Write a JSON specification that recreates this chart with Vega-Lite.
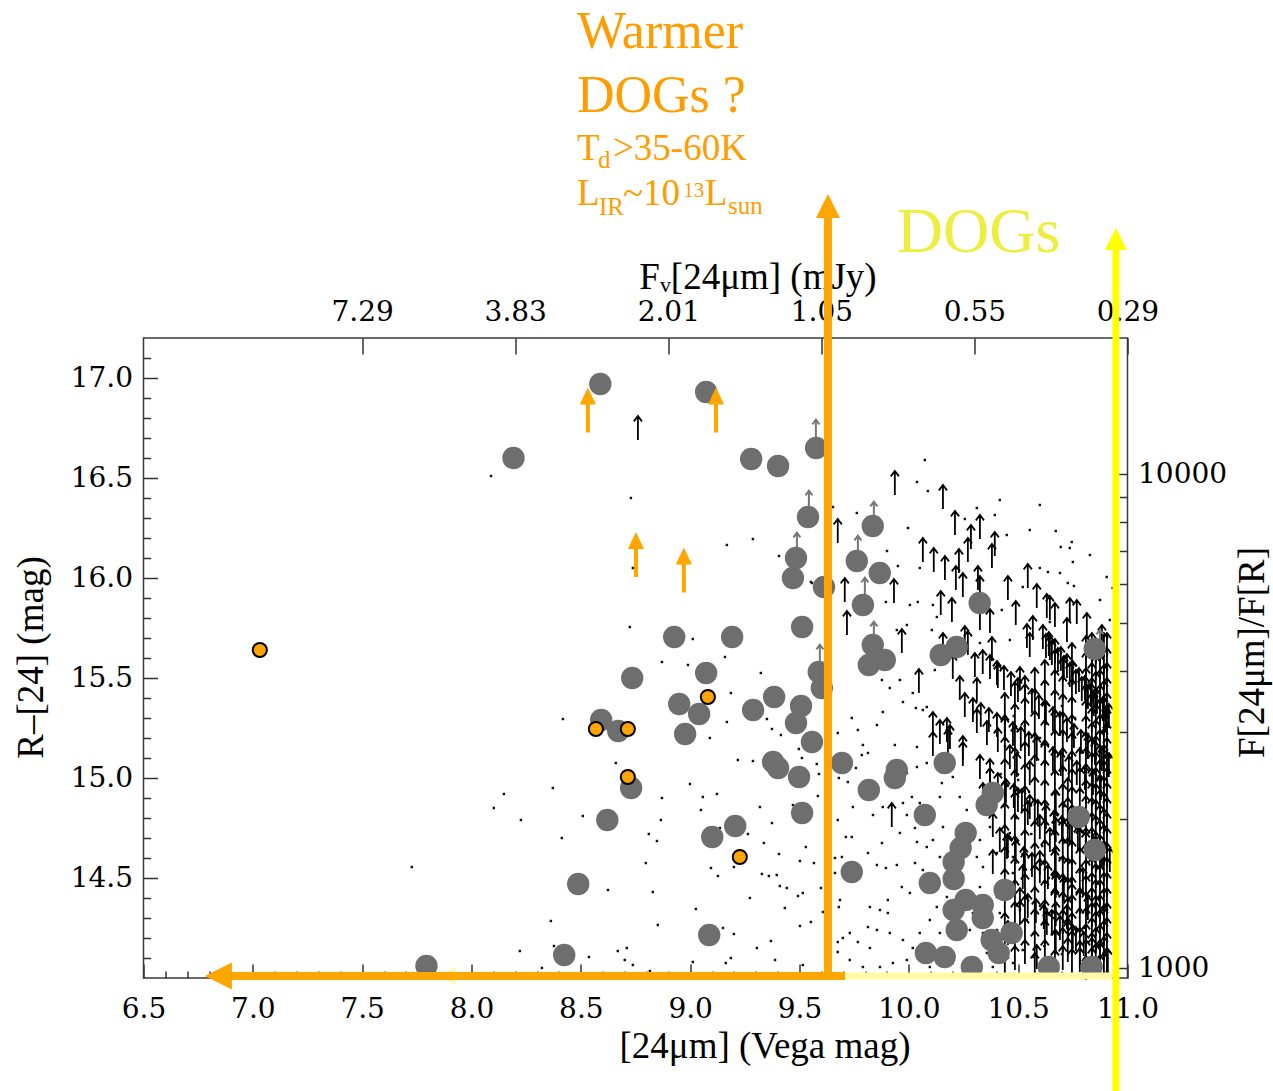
{
"$schema": "https://vega.github.io/schema/vega-lite/v6.json",
"width": 984,
"height": 640,
"autosize": "none",
"padding": {"left": 143.5, "top": 338, "right": 145.5, "bottom": 113},
"background": "white",
"config": {
 "view": {"stroke": "#3a3a3a", "strokeWidth": 1.5},
 "axis": {"grid": false, "domain": false, "labelFont": "DejaVu Serif", "labelFontSize": 28, "labelColor": "#000", "titleFont": "Liberation Serif", "titleFontSize": 37, "titleColor": "#000", "titleFontWeight": "normal", "tickColor": "#333", "tickWidth": 1.5, "labelFlush": false, "labelOverlap": false}
},
"resolve": {"axis": {"x": "independent", "y": "independent"}},
"datasets": {
 "dots": [
{"x":8.089,"y":16.51},{"x":8.729,"y":16.40},{"x":8.738,"y":16.05},{"x":8.724,"y":15.755},{"x":9.012,"y":15.695},{"x":9.168,"y":16.165},{"x":9.287,"y":16.195},{"x":9.406,"y":16.11},{"x":9.552,"y":15.98},{"x":9.159,"y":15.605},{"x":9.653,"y":16.355},{"x":8.418,"y":15.295},{"x":8.871,"y":15.58},{"x":8.990,"y":15.565},{"x":9.323,"y":15.525},{"x":9.186,"y":15.425},{"x":9.168,"y":15.28},{"x":9.090,"y":15.20},{"x":9.351,"y":15.295},{"x":9.374,"y":15.245},{"x":9.415,"y":15.215},{"x":9.218,"y":15.09},{"x":9.287,"y":15.085},{"x":9.497,"y":15.145},{"x":9.511,"y":15.10},{"x":9.579,"y":15.07},{"x":9.589,"y":15.02},{"x":8.660,"y":15.075},{"x":8.372,"y":14.95},{"x":8.148,"y":14.92},{"x":8.102,"y":14.85},{"x":8.226,"y":14.79},{"x":8.509,"y":14.81},{"x":8.413,"y":14.70},{"x":8.871,"y":14.90},{"x":8.999,"y":14.97},{"x":9.058,"y":14.905},{"x":9.122,"y":14.92},{"x":9.049,"y":14.84},{"x":8.866,"y":14.79},{"x":8.811,"y":14.72},{"x":8.848,"y":14.685},{"x":9.319,"y":14.855},{"x":9.374,"y":14.775},{"x":9.337,"y":14.675},{"x":9.406,"y":14.62},{"x":9.264,"y":14.72},{"x":9.136,"y":14.75},{"x":9.529,"y":14.655},{"x":9.502,"y":14.585},{"x":9.566,"y":14.575},{"x":9.584,"y":14.91},{"x":9.470,"y":14.865},{"x":9.662,"y":14.60},{"x":9.095,"y":14.55},{"x":9.127,"y":14.51},{"x":9.200,"y":14.555},{"x":9.328,"y":14.52},{"x":9.360,"y":14.51},{"x":9.396,"y":14.515},{"x":9.410,"y":14.46},{"x":9.442,"y":14.45},{"x":9.493,"y":14.41},{"x":9.515,"y":14.425},{"x":9.598,"y":14.45},{"x":9.273,"y":14.40},{"x":8.797,"y":14.575},{"x":8.829,"y":14.43},{"x":8.624,"y":14.44},{"x":8.363,"y":14.285},{"x":7.727,"y":14.555},{"x":9.026,"y":14.345},{"x":8.852,"y":14.265},{"x":9.150,"y":14.25},{"x":9.200,"y":14.22},{"x":9.433,"y":14.35},{"x":9.607,"y":14.33},{"x":9.502,"y":14.26},{"x":9.552,"y":14.28},{"x":9.369,"y":14.185},{"x":9.305,"y":14.15},{"x":9.186,"y":14.10},{"x":9.163,"y":14.075},{"x":9.388,"y":14.09},{"x":9.515,"y":14.065},{"x":9.675,"y":14.13},{"x":9.675,"y":14.18},{"x":9.698,"y":14.20},{"x":8.221,"y":14.135},{"x":8.377,"y":14.16},{"x":8.537,"y":14.105},{"x":8.669,"y":14.135},{"x":8.710,"y":14.15},{"x":8.701,"y":14.09},{"x":8.738,"y":14.065},{"x":8.816,"y":14.035},{"x":9.012,"y":14.08},{"x":8.322,"y":14.05},{"x":9.721,"y":14.98},{"x":9.712,"y":14.705},{"x":9.675,"y":14.79},{"x":9.680,"y":14.355},
{"x":9.881,"y":15.33},{"x":9.739,"y":15.30},{"x":10.032,"y":15.35},{"x":10.064,"y":15.34},{"x":9.790,"y":15.165},{"x":9.813,"y":15.125},{"x":9.785,"y":15.115},{"x":9.758,"y":15.05},{"x":9.804,"y":14.905},{"x":9.744,"y":14.855},{"x":9.836,"y":14.815},{"x":9.881,"y":14.855},{"x":9.973,"y":14.875},{"x":10.014,"y":14.905},{"x":10.050,"y":14.875},{"x":10.087,"y":14.85},{"x":9.991,"y":14.815},{"x":10.028,"y":14.75},{"x":9.959,"y":14.725},{"x":9.877,"y":14.675},{"x":10.037,"y":14.68},{"x":10.082,"y":14.655},{"x":9.813,"y":14.625},{"x":9.854,"y":14.565},{"x":9.895,"y":14.55},{"x":9.945,"y":14.565},{"x":10.028,"y":14.575},{"x":9.968,"y":14.455},{"x":10.005,"y":14.425},{"x":9.904,"y":14.39},{"x":9.822,"y":14.355},{"x":9.868,"y":14.34},{"x":9.904,"y":14.325},{"x":9.813,"y":14.255},{"x":9.854,"y":14.24},{"x":9.730,"y":14.225},{"x":9.767,"y":14.18},{"x":9.822,"y":14.15},{"x":9.913,"y":14.225},{"x":9.973,"y":14.19},{"x":10.018,"y":14.15},{"x":9.991,"y":14.09},{"x":9.927,"y":14.075},{"x":9.868,"y":14.055},{"x":9.790,"y":14.055},{"x":9.730,"y":14.09},{"x":9.685,"y":14.39},{"x":9.662,"y":14.525},{"x":9.694,"y":14.605},{"x":9.739,"y":14.705},{"x":9.680,"y":15.00},{"x":9.675,"y":15.225},{"x":9.767,"y":15.24},{"x":9.854,"y":15.265},{"x":9.936,"y":15.165},{"x":10.037,"y":15.155},{"x":10.082,"y":15.075},{"x":10.037,"y":15.055},{"x":9.991,"y":15.025},{"x":10.151,"y":14.975},{"x":10.201,"y":15.005},{"x":10.142,"y":14.905},{"x":10.233,"y":14.905},{"x":10.265,"y":14.84},{"x":10.156,"y":14.755},{"x":10.110,"y":14.69},{"x":10.142,"y":14.605},{"x":10.064,"y":14.54},{"x":10.174,"y":14.405},{"x":10.128,"y":14.355},{"x":10.096,"y":14.29},{"x":10.142,"y":14.225},{"x":10.050,"y":14.225},{"x":10.265,"y":14.425},{"x":10.293,"y":14.325},{"x":10.279,"y":14.24},{"x":10.339,"y":14.225},{"x":10.403,"y":14.24},{"x":10.416,"y":14.325},{"x":10.403,"y":14.405},{"x":10.325,"y":14.455},{"x":10.339,"y":14.555},{"x":10.311,"y":14.605},{"x":10.403,"y":14.625},{"x":10.325,"y":14.69},{"x":10.371,"y":14.755},{"x":10.462,"y":14.725},{"x":10.476,"y":14.605},{"x":10.476,"y":14.525},{"x":10.508,"y":14.34},{"x":10.540,"y":14.29},{"x":10.462,"y":14.225},{"x":10.521,"y":14.14},{"x":10.567,"y":14.105},{"x":10.476,"y":14.075},{"x":10.384,"y":14.055},{"x":10.311,"y":14.075},{"x":10.201,"y":14.075},{"x":10.096,"y":14.055},{"x":10.357,"y":14.125},
{"x":10.073,"y":16.59},{"x":10.037,"y":16.48},{"x":10.087,"y":16.435},{"x":9.762,"y":16.325},{"x":9.900,"y":16.135},{"x":9.950,"y":16.06},{"x":9.996,"y":16.25},{"x":10.256,"y":16.295},{"x":10.311,"y":16.35},{"x":10.393,"y":16.315},{"x":10.448,"y":16.215},{"x":10.553,"y":16.24},{"x":10.672,"y":16.235},{"x":10.695,"y":16.155},{"x":10.736,"y":16.15},{"x":10.745,"y":16.18},{"x":10.750,"y":16.08},{"x":10.599,"y":16.05},{"x":10.636,"y":16.03},{"x":10.691,"y":16.025},{"x":10.727,"y":15.975},{"x":10.755,"y":15.96},{"x":10.521,"y":15.955},{"x":10.050,"y":16.05},{"x":9.895,"y":15.88},{"x":10.005,"y":15.865},{"x":10.041,"y":15.88},{"x":10.110,"y":15.865},{"x":10.128,"y":15.805},{"x":9.991,"y":15.765},{"x":9.945,"y":15.74},{"x":10.105,"y":15.74},{"x":9.877,"y":15.49},{"x":9.913,"y":15.45},{"x":9.959,"y":15.49},{"x":10.119,"y":15.54},{"x":10.018,"y":15.425},{"x":9.973,"y":15.38},{"x":10.082,"y":15.355},{"x":10.325,"y":15.675},{"x":10.462,"y":15.69},{"x":10.425,"y":15.84},{"x":10.645,"y":15.78},{"x":10.919,"y":15.79},{"x":10.905,"y":16.005},{"x":10.932,"y":15.95},{"x":9.557,"y":15.975},{"x":10.416,"y":16.39},{"x":10.599,"y":16.365},{"x":10.828,"y":16.115},{"x":10.874,"y":15.89},
{"x":10.42,"y":15.02},{"x":10.45,"y":14.96},{"x":10.50,"y":14.99},{"x":10.55,"y":14.93},{"x":10.43,"y":14.86},{"x":10.49,"y":14.80},{"x":10.56,"y":14.72},{"x":10.61,"y":14.66},{"x":10.52,"y":14.62},{"x":10.58,"y":14.55},{"x":10.64,"y":14.50},{"x":10.47,"y":14.47},{"x":10.54,"y":14.41},{"x":10.60,"y":14.36},{"x":10.66,"y":14.30},{"x":10.57,"y":14.22},{"x":10.62,"y":14.16},{"x":10.70,"y":14.12},{"x":10.69,"y":14.60},{"x":10.71,"y":14.86},{"x":10.76,"y":14.76},{"x":10.79,"y":14.56},{"x":10.74,"y":14.40},{"x":10.80,"y":14.25},{"x":10.44,"y":15.16},{"x":10.48,"y":15.31},{"x":10.53,"y":15.26},{"x":10.60,"y":15.20},{"x":10.66,"y":15.14},{"x":10.70,"y":15.36},{"x":10.76,"y":15.30},{"x":10.82,"y":15.22}
 ],
 "arrows": [
{"x":8.761,"y":16.75},{"x":9.675,"y":16.235},{"x":9.707,"y":15.94},{"x":9.717,"y":15.775},{"x":9.936,"y":16.475},{"x":10.156,"y":16.405},{"x":10.211,"y":16.275},{"x":10.325,"y":16.255},{"x":10.284,"y":16.205},{"x":10.270,"y":16.14},{"x":10.393,"y":16.17},{"x":10.380,"y":16.11},{"x":10.064,"y":16.14},{"x":10.114,"y":16.09},{"x":10.165,"y":16.05},{"x":10.229,"y":16.085},{"x":10.215,"y":16.00},{"x":10.247,"y":15.965},{"x":10.316,"y":16.00},{"x":10.325,"y":15.95},{"x":9.932,"y":15.935},{"x":10.146,"y":15.875},{"x":10.453,"y":15.95},{"x":10.544,"y":16.01},{"x":10.585,"y":15.91},{"x":10.631,"y":15.86},{"x":10.668,"y":15.815},{"x":10.736,"y":15.84},{"x":10.814,"y":15.765},{"x":10.489,"y":15.825},{"x":10.371,"y":15.785},{"x":10.325,"y":15.80},{"x":9.968,"y":15.685},{"x":10.270,"y":15.675},{"x":10.567,"y":15.75},{"x":10.540,"y":15.71},{"x":10.645,"y":15.65},{"x":10.723,"y":15.74},{"x":10.046,"y":15.485},{"x":9.922,"y":14.815},{"x":10.110,"y":15.27},{"x":10.142,"y":15.23},{"x":10.179,"y":15.185},{"x":10.247,"y":15.12},{"x":10.110,"y":15.17},
{"x":10.197,"y":15.84},{"x":10.645,"y":15.85},{"x":10.768,"y":15.83},{"x":10.380,"y":15.645},{"x":10.256,"y":15.70},{"x":10.156,"y":15.665},{"x":10.201,"y":15.555},{"x":10.302,"y":15.565},{"x":10.338,"y":15.58},{"x":10.233,"y":15.45},{"x":10.311,"y":15.44},{"x":10.407,"y":15.51},{"x":10.508,"y":15.495},{"x":10.553,"y":15.665},{"x":10.883,"y":15.705},{"x":10.174,"y":15.24},{"x":10.247,"y":15.15},{"x":10.311,"y":15.285},{"x":10.357,"y":15.225},{"x":10.407,"y":15.19},{"x":10.462,"y":15.105},{"x":10.188,"y":15.205},{"x":10.325,"y":15.055},{"x":10.371,"y":15.035},{"x":10.494,"y":15.065},{"x":10.553,"y":15.025},{"x":10.339,"y":14.915},{"x":10.384,"y":14.765},{"x":10.448,"y":14.655},{"x":10.384,"y":14.58},{"x":10.499,"y":14.89},{"x":10.544,"y":14.825},{"x":10.599,"y":14.755},{"x":10.645,"y":14.69},{"x":10.599,"y":14.575},{"x":10.521,"y":14.505},{"x":10.508,"y":14.325},{"x":10.453,"y":14.225},{"x":10.585,"y":14.105},{"x":10.631,"y":14.275},{"x":10.668,"y":14.39},{"x":10.723,"y":14.305},{"x":10.750,"y":14.205},{"x":10.782,"y":14.125},{"x":10.796,"y":14.49},
{"x":10.613,"y":15.705},{"x":10.640,"y":15.67},{"x":10.668,"y":15.635},{"x":10.695,"y":15.595},{"x":10.723,"y":15.56},{"x":10.750,"y":15.525},{"x":10.778,"y":15.49},{"x":10.805,"y":15.45},{"x":10.832,"y":15.415},{"x":10.860,"y":15.38},{"x":10.887,"y":15.345},{"x":10.915,"y":15.31},
{"x":10.627,"y":15.66},{"x":10.654,"y":15.625},{"x":10.682,"y":15.59},{"x":10.709,"y":15.55},{"x":10.736,"y":15.515},{"x":10.764,"y":15.48},{"x":10.791,"y":15.445},{"x":10.819,"y":15.405},{"x":10.846,"y":15.37},{"x":10.874,"y":15.335},{"x":10.901,"y":15.30},
{"x":10.371,"y":15.555},{"x":10.403,"y":15.525},{"x":10.435,"y":15.50},{"x":10.467,"y":15.47},{"x":10.499,"y":15.44},{"x":10.531,"y":15.41},{"x":10.563,"y":15.385},{"x":10.595,"y":15.355},{"x":10.627,"y":15.325},{"x":10.659,"y":15.295},{"x":10.691,"y":15.27},{"x":10.723,"y":15.24},{"x":10.755,"y":15.21},{"x":10.787,"y":15.18},{"x":10.819,"y":15.155},{"x":10.851,"y":15.125},{"x":10.883,"y":15.095},{"x":10.915,"y":15.065},
{"x":10.256,"y":15.365},{"x":10.293,"y":15.34},{"x":10.329,"y":15.315},{"x":10.366,"y":15.29},{"x":10.403,"y":15.265},{"x":10.439,"y":15.245},{"x":10.476,"y":15.22},{"x":10.512,"y":15.195},{"x":10.549,"y":15.17},{"x":10.585,"y":15.145},{"x":10.622,"y":15.12},{"x":10.659,"y":15.095},{"x":10.695,"y":15.07},{"x":10.732,"y":15.05},{"x":10.768,"y":15.025},{"x":10.805,"y":15.00},{"x":10.842,"y":14.975},{"x":10.878,"y":14.95},
{"x":10.371,"y":14.99},{"x":10.407,"y":14.965},{"x":10.444,"y":14.935},{"x":10.480,"y":14.91},{"x":10.517,"y":14.885},{"x":10.553,"y":14.855},{"x":10.590,"y":14.83},{"x":10.627,"y":14.805},{"x":10.663,"y":14.775},{"x":10.700,"y":14.75},{"x":10.736,"y":14.725},{"x":10.773,"y":14.695},{"x":10.809,"y":14.67},{"x":10.846,"y":14.645},{"x":10.883,"y":14.615},{"x":10.919,"y":14.59},
{"x":10.416,"y":14.69},{"x":10.453,"y":14.66},{"x":10.489,"y":14.63},{"x":10.526,"y":14.595},{"x":10.563,"y":14.565},{"x":10.599,"y":14.535},{"x":10.636,"y":14.505},{"x":10.672,"y":14.475},{"x":10.709,"y":14.445},{"x":10.746,"y":14.41},{"x":10.782,"y":14.38},{"x":10.819,"y":14.35},{"x":10.855,"y":14.32},{"x":10.892,"y":14.29},
{"x":10.508,"y":14.39},{"x":10.544,"y":14.36},{"x":10.581,"y":14.335},{"x":10.617,"y":14.305},{"x":10.654,"y":14.28},{"x":10.691,"y":14.25},{"x":10.727,"y":14.225},{"x":10.764,"y":14.195},{"x":10.800,"y":14.17},{"x":10.837,"y":14.14},{"x":10.874,"y":14.115},{"x":10.910,"y":14.085},
{"x":10.837,"y":15.665},{"x":10.837,"y":15.59},{"x":10.837,"y":15.515},{"x":10.837,"y":15.44},{"x":10.837,"y":15.365},{"x":10.837,"y":15.29},{"x":10.837,"y":15.215},{"x":10.837,"y":15.14},{"x":10.837,"y":15.065},{"x":10.837,"y":14.99},{"x":10.837,"y":14.915},{"x":10.837,"y":14.84},{"x":10.837,"y":14.765},{"x":10.837,"y":14.69},{"x":10.837,"y":14.615},{"x":10.837,"y":14.54},{"x":10.837,"y":14.465},{"x":10.837,"y":14.39},{"x":10.837,"y":14.315},{"x":10.837,"y":14.24},{"x":10.837,"y":14.165},{"x":10.837,"y":14.09},
{"x":10.874,"y":15.63},{"x":10.874,"y":15.555},{"x":10.874,"y":15.48},{"x":10.874,"y":15.405},{"x":10.874,"y":15.33},{"x":10.874,"y":15.255},{"x":10.874,"y":15.18},{"x":10.874,"y":15.105},{"x":10.874,"y":15.03},{"x":10.874,"y":14.955},{"x":10.874,"y":14.88},{"x":10.874,"y":14.805},{"x":10.874,"y":14.73},{"x":10.874,"y":14.655},{"x":10.874,"y":14.58},{"x":10.874,"y":14.505},{"x":10.874,"y":14.43},{"x":10.874,"y":14.355},{"x":10.874,"y":14.28},{"x":10.874,"y":14.205},{"x":10.874,"y":14.13},{"x":10.874,"y":14.055},
{"x":10.906,"y":15.665},{"x":10.906,"y":15.59},{"x":10.906,"y":15.515},{"x":10.906,"y":15.44},{"x":10.906,"y":15.365},{"x":10.906,"y":15.29},{"x":10.906,"y":15.215},{"x":10.906,"y":15.14},{"x":10.906,"y":15.065},{"x":10.906,"y":14.99},{"x":10.906,"y":14.915},{"x":10.906,"y":14.84},{"x":10.906,"y":14.765},{"x":10.906,"y":14.69},{"x":10.906,"y":14.615},{"x":10.906,"y":14.54},{"x":10.906,"y":14.465},{"x":10.906,"y":14.39},{"x":10.906,"y":14.315},{"x":10.906,"y":14.24},{"x":10.906,"y":14.165},{"x":10.906,"y":14.09},
{"x":10.782,"y":15.09},{"x":10.782,"y":14.99},{"x":10.782,"y":14.89},{"x":10.782,"y":14.79},{"x":10.782,"y":14.69},{"x":10.782,"y":14.59},{"x":10.782,"y":14.49},{"x":10.782,"y":14.39},{"x":10.782,"y":14.29},{"x":10.782,"y":14.19},{"x":10.782,"y":14.09},
{"x":10.727,"y":14.94},{"x":10.727,"y":14.84},{"x":10.727,"y":14.74},{"x":10.727,"y":14.64},{"x":10.727,"y":14.54},{"x":10.727,"y":14.44},{"x":10.727,"y":14.34},{"x":10.727,"y":14.24},{"x":10.727,"y":14.14},
{"x":10.672,"y":14.88},{"x":10.672,"y":14.74},{"x":10.672,"y":14.60},{"x":10.672,"y":14.46},{"x":10.672,"y":14.32},{"x":10.672,"y":14.18},
{"x":10.439,"y":15.365},{"x":10.439,"y":15.255},{"x":10.439,"y":15.145},{"x":10.439,"y":15.035},{"x":10.439,"y":14.925},{"x":10.439,"y":14.815},{"x":10.439,"y":14.705},{"x":10.439,"y":14.595},{"x":10.439,"y":14.485},{"x":10.439,"y":14.375},{"x":10.439,"y":14.265},{"x":10.439,"y":14.155},{"x":10.439,"y":14.065},
{"x":10.485,"y":15.42},{"x":10.485,"y":15.31},{"x":10.485,"y":15.20},{"x":10.485,"y":15.09},{"x":10.485,"y":14.98},{"x":10.485,"y":14.87},{"x":10.485,"y":14.76},{"x":10.485,"y":14.65},{"x":10.485,"y":14.54},{"x":10.485,"y":14.43},{"x":10.485,"y":14.32},{"x":10.485,"y":14.21},{"x":10.485,"y":14.10},
{"x":10.531,"y":15.45},{"x":10.531,"y":15.34},{"x":10.531,"y":15.23},{"x":10.531,"y":15.12},{"x":10.531,"y":15.01},{"x":10.531,"y":14.90},{"x":10.531,"y":14.79},{"x":10.531,"y":14.68},{"x":10.531,"y":14.57},{"x":10.531,"y":14.46},{"x":10.531,"y":14.35},{"x":10.531,"y":14.24},{"x":10.531,"y":14.13},
{"x":10.576,"y":15.49},{"x":10.576,"y":15.385},{"x":10.576,"y":15.275},{"x":10.576,"y":15.165},{"x":10.576,"y":15.055},{"x":10.576,"y":14.945},{"x":10.576,"y":14.835},{"x":10.576,"y":14.725},{"x":10.576,"y":14.615},{"x":10.576,"y":14.505},{"x":10.576,"y":14.395},{"x":10.576,"y":14.285},{"x":10.576,"y":14.175},{"x":10.576,"y":14.065},
{"x":10.622,"y":15.53},{"x":10.622,"y":15.43},{"x":10.622,"y":15.33},{"x":10.622,"y":15.23},{"x":10.622,"y":15.13},{"x":10.622,"y":15.03},{"x":10.622,"y":14.93},{"x":10.622,"y":14.83},{"x":10.622,"y":14.73},{"x":10.622,"y":14.63},{"x":10.622,"y":14.53},{"x":10.622,"y":14.43},{"x":10.622,"y":14.33},{"x":10.622,"y":14.23},{"x":10.622,"y":14.13},
{"x":10.668,"y":15.58},{"x":10.668,"y":15.48},{"x":10.668,"y":15.38},{"x":10.668,"y":15.28},{"x":10.668,"y":15.18},{"x":10.668,"y":15.08},{"x":10.668,"y":14.98},{"x":10.668,"y":14.88},{"x":10.668,"y":14.78},{"x":10.668,"y":14.68},{"x":10.668,"y":14.58},{"x":10.668,"y":14.48},{"x":10.668,"y":14.38},{"x":10.668,"y":14.28},{"x":10.668,"y":14.18},{"x":10.668,"y":14.08},
{"x":10.704,"y":15.54},{"x":10.704,"y":15.45},{"x":10.704,"y":15.36},{"x":10.704,"y":15.27},{"x":10.704,"y":15.18},{"x":10.704,"y":15.09},{"x":10.704,"y":15.00},{"x":10.704,"y":14.91},{"x":10.704,"y":14.82},{"x":10.704,"y":14.73},{"x":10.704,"y":14.64},{"x":10.704,"y":14.55},{"x":10.704,"y":14.46},{"x":10.704,"y":14.37},{"x":10.704,"y":14.28},{"x":10.704,"y":14.19},{"x":10.704,"y":14.10},
{"x":10.746,"y":15.615},{"x":10.746,"y":15.525},{"x":10.746,"y":15.435},{"x":10.746,"y":15.345},{"x":10.746,"y":15.255},{"x":10.746,"y":15.165},{"x":10.746,"y":15.075},{"x":10.746,"y":14.985},{"x":10.746,"y":14.895},{"x":10.746,"y":14.805},{"x":10.746,"y":14.715},{"x":10.746,"y":14.625},{"x":10.746,"y":14.535},{"x":10.746,"y":14.445},{"x":10.746,"y":14.355},{"x":10.746,"y":14.265},{"x":10.746,"y":14.175},{"x":10.746,"y":14.085},
{"x":10.810,"y":15.65},{"x":10.810,"y":15.57},{"x":10.810,"y":15.49},{"x":10.810,"y":15.41},{"x":10.810,"y":15.33},{"x":10.810,"y":15.25},{"x":10.810,"y":15.17},{"x":10.810,"y":15.09},{"x":10.810,"y":15.01},{"x":10.810,"y":14.93},{"x":10.810,"y":14.85},{"x":10.810,"y":14.77},{"x":10.810,"y":14.69},{"x":10.810,"y":14.61},{"x":10.810,"y":14.53},{"x":10.810,"y":14.45},{"x":10.810,"y":14.37},{"x":10.810,"y":14.29},{"x":10.810,"y":14.21},{"x":10.810,"y":14.13},{"x":10.810,"y":14.05},
{"x":10.855,"y":15.63},{"x":10.855,"y":15.55},{"x":10.855,"y":15.47},{"x":10.855,"y":15.39},{"x":10.855,"y":15.31},{"x":10.855,"y":15.23},{"x":10.855,"y":15.15},{"x":10.855,"y":15.07},{"x":10.855,"y":14.99},{"x":10.855,"y":14.91},{"x":10.855,"y":14.83},{"x":10.855,"y":14.75},{"x":10.855,"y":14.67},{"x":10.855,"y":14.59},{"x":10.855,"y":14.51},{"x":10.855,"y":14.43},{"x":10.855,"y":14.35},{"x":10.855,"y":14.27},{"x":10.855,"y":14.19},{"x":10.855,"y":14.11},
{"x":10.892,"y":15.665},{"x":10.892,"y":15.585},{"x":10.892,"y":15.505},{"x":10.892,"y":15.425},{"x":10.892,"y":15.345},{"x":10.892,"y":15.265},{"x":10.892,"y":15.185},{"x":10.892,"y":15.105},{"x":10.892,"y":15.025},{"x":10.892,"y":14.945},{"x":10.892,"y":14.865},{"x":10.892,"y":14.785},{"x":10.892,"y":14.705},{"x":10.892,"y":14.625},{"x":10.892,"y":14.545},{"x":10.892,"y":14.465},{"x":10.892,"y":14.385},{"x":10.892,"y":14.305},{"x":10.892,"y":14.225},{"x":10.892,"y":14.145},{"x":10.892,"y":14.065}
 ],
 "grayarrows": [
{"x":9.575,"y":16.74},{"x":9.543,"y":16.385},{"x":9.488,"y":16.175},{"x":9.840,"y":16.33},{"x":9.767,"y":16.16},{"x":9.799,"y":15.95},{"x":9.840,"y":15.73},{"x":10.874,"y":15.69},{"x":9.593,"y":15.615}
 ],
 "gray": [
{"x":8.589,"y":16.97},{"x":9.073,"y":16.93},{"x":8.192,"y":16.60},{"x":9.279,"y":16.595},{"x":9.402,"y":16.56},{"x":9.576,"y":16.65},{"x":9.539,"y":16.305},{"x":9.484,"y":16.10},{"x":9.470,"y":16.00},{"x":9.612,"y":15.955},{"x":9.835,"y":16.26},{"x":9.762,"y":16.085},{"x":9.867,"y":16.025},{"x":9.790,"y":15.865},{"x":9.512,"y":15.755},{"x":8.927,"y":15.705},{"x":9.192,"y":15.705},{"x":9.835,"y":15.665},{"x":9.817,"y":15.565},{"x":9.890,"y":15.59},{"x":9.588,"y":15.53},{"x":9.602,"y":15.45},{"x":8.735,"y":15.50},{"x":9.073,"y":15.525},{"x":8.950,"y":15.37},{"x":9.041,"y":15.32},{"x":8.593,"y":15.29},{"x":8.671,"y":15.235},{"x":8.977,"y":15.22},{"x":9.288,"y":15.34},{"x":9.384,"y":15.405},{"x":9.507,"y":15.36},{"x":9.484,"y":15.275},{"x":9.557,"y":15.18},{"x":9.379,"y":15.08},{"x":9.402,"y":15.05},{"x":9.498,"y":15.005},{"x":9.694,"y":15.075},{"x":8.730,"y":14.95},{"x":8.621,"y":14.79},{"x":9.512,"y":14.825},{"x":9.206,"y":14.76},{"x":9.101,"y":14.705},{"x":8.488,"y":14.47},{"x":9.087,"y":14.215},{"x":8.424,"y":14.115},{"x":7.794,"y":14.06},{"x":9.817,"y":14.94},{"x":9.945,"y":15.04},{"x":9.936,"y":15.00},{"x":9.739,"y":14.53},{"x":10.164,"y":15.075},{"x":10.073,"y":14.815},{"x":10.324,"y":15.875},{"x":10.146,"y":15.615},{"x":10.219,"y":15.655},{"x":10.850,"y":15.645},{"x":10.384,"y":14.925},{"x":10.356,"y":14.865},{"x":10.777,"y":14.805},{"x":10.850,"y":14.64},{"x":10.260,"y":14.725},{"x":10.237,"y":14.65},{"x":10.205,"y":14.58},{"x":10.205,"y":14.495},{"x":10.096,"y":14.475},{"x":10.260,"y":14.39},{"x":10.338,"y":14.365},{"x":10.338,"y":14.30},{"x":10.205,"y":14.34},{"x":10.219,"y":14.24},{"x":10.438,"y":14.44},{"x":10.470,"y":14.225},{"x":10.379,"y":14.19},{"x":10.411,"y":14.125},{"x":10.078,"y":14.125},{"x":10.164,"y":14.105},{"x":10.288,"y":14.055},{"x":10.640,"y":14.055},{"x":10.836,"y":14.055}
 ],
 "orange": [
{"x":7.032,"y":15.64},{"x":8.569,"y":15.245},{"x":8.715,"y":15.245},{"x":8.715,"y":15.005},{"x":9.081,"y":15.405},{"x":9.227,"y":14.605}
 ],
 "orangearrows": [
{"x":8.532,"y":16.84},{"x":9.118,"y":16.84},{"x":8.752,"y":16.1175},{"x":8.971,"y":16.04}
 ]
},
"layer": [
 {
  "data": {"name": "dots"},
  "mark": {"type": "point", "shape": "square", "filled": true, "size": 6, "color": "#111", "opacity": 1},
  "encoding": {
   "x": {"field": "x", "type": "quantitative", "scale": {"domain": [6.5, 11], "nice": false, "zero": false},
    "axis": {"orient": "bottom", "values": [6.5,7,7.5,8,8.5,9,9.5,10,10.5,11], "format": ".1f", "ticks": false, "labels": true, "labelPadding": 17, "title": "[24μm] (Vega mag)", "titleX": 621, "titleY": 79, "titleBaseline": "alphabetic", "titleAlign": "center"}},
   "y": {"field": "y", "type": "quantitative", "scale": {"domain": [14, 17.2], "nice": false, "zero": false},
    "axis": {"orient": "left", "values": [14.5,15,15.5,16,16.5,17], "format": ".1f", "ticks": false, "labels": true, "labelPadding": 11, "title": "R–[24] (mag)", "titleAngle": 270, "titleX": -112, "titleY": 319, "titleBaseline": "middle", "titleAlign": "center"}}
  }
 },
 {
  "data": {"name": "arrows"},
  "mark": {"type": "point", "shape": "M0,1L0,-1M-0.34,-0.55L0,-1L0.34,-0.55", "filled": false, "size": 576, "color": "#000", "strokeWidth": 1.8, "opacity": 1},
  "encoding": {
   "x": {"field": "x", "type": "quantitative", "scale": {"domain": [6.5, 11], "nice": false, "zero": false},
    "axis": {"orient": "bottom", "values": [6.5,7,7.5,8,8.5,9,9.5,10,10.5,11], "labels": false, "ticks": true, "tickSize": -14, "title": null}},
   "y": {"field": "y", "type": "quantitative", "scale": {"domain": [14, 17.2], "nice": false, "zero": false},
    "axis": {"orient": "left", "values": [14.5,15,15.5,16,16.5,17], "labels": false, "ticks": true, "tickSize": -14, "title": null}}
  }
 },
 {
  "data": {"name": "grayarrows"},
  "mark": {"type": "point", "shape": "M0,1L0,-1M-0.34,-0.55L0,-1L0.34,-0.55", "filled": false, "size": 420, "color": "#777", "strokeWidth": 2, "opacity": 1},
  "encoding": {
   "x": {"field": "x", "type": "quantitative", "scale": {"domain": [6.5, 11], "nice": false, "zero": false},
    "axis": {"orient": "bottom", "values": [6.6,6.7,6.8,6.9,7.1,7.2,7.3,7.4,7.6,7.7,7.8,7.9,8.1,8.2,8.3,8.4,8.6,8.7,8.8,8.9,9.1,9.2,9.3,9.4,9.6,9.7,9.8,9.9,10.1,10.2,10.3,10.4,10.6,10.7,10.8,10.9], "labels": false, "ticks": true, "tickSize": -7, "title": null}},
   "y": {"field": "y", "type": "quantitative", "scale": {"domain": [14, 17.2], "nice": false, "zero": false},
    "axis": {"orient": "left", "values": [14.1,14.2,14.3,14.4,14.6,14.7,14.8,14.9,15.1,15.2,15.3,15.4,15.6,15.7,15.8,15.9,16.1,16.2,16.3,16.4,16.6,16.7,16.8,16.9,17.1], "labels": false, "ticks": true, "tickSize": -7, "title": null}}
  }
 },
 {
  "data": {"name": "gray"},
  "mark": {"type": "circle", "size": 500, "color": "#6e6e6e", "opacity": 1},
  "encoding": {
   "x": {"field": "x", "type": "quantitative", "scale": {"domain": [6.5, 11], "nice": false, "zero": false},
    "axis": {"orient": "top", "values": [7.5,8.2,8.9,9.6,10.3,11], "ticks": false, "labels": true, "labelPadding": 12, "labelExpr": "datum.value < 7.8 ? '7.29' : datum.value < 8.5 ? '3.83' : datum.value < 9.2 ? '2.01' : datum.value < 9.9 ? '1.05' : datum.value < 10.6 ? '0.55' : '0.29'", "title": "Fᵥ[24μm] (mJy)", "titleX": 614, "titleY": -50, "titleBaseline": "alphabetic", "titleAlign": "center"}},
   "y": {"field": "y", "type": "quantitative", "scale": {"domain": [14, 17.2], "nice": false, "zero": false},
    "axis": {"orient": "right", "values": [14.05,16.52], "ticks": false, "labels": true, "labelPadding": 10, "labelExpr": "datum.value < 15 ? '1000' : '10000'", "title": "F[24μm]/F[R]", "titleAngle": 270, "titleX": 125, "titleY": 314, "titleBaseline": "middle", "titleAlign": "center"}}
  }
 },
 {
  "data": {"name": "orange"},
  "mark": {"type": "point", "shape": "circle", "filled": true, "size": 200, "fill": "#ffa500", "stroke": "#000", "strokeWidth": 2, "opacity": 1},
  "encoding": {
   "x": {"field": "x", "type": "quantitative", "scale": {"domain": [6.5, 11], "nice": false, "zero": false},
    "axis": {"orient": "top", "values": [7.5,8.2,8.9,9.6,10.3,11], "labels": false, "ticks": true, "tickSize": -16, "title": null}},
   "y": {"field": "y", "type": "quantitative", "scale": {"domain": [14, 17.2], "nice": false, "zero": false},
    "axis": {"orient": "right", "values": [14.05,16.52], "labels": false, "ticks": true, "tickSize": -15, "title": null}}
  }
 },
 {
  "data": {"name": "orangearrows"},
  "mark": {"type": "point", "shape": "M0,-1L0.36,-0.25L0.09,-0.25L0.09,1L-0.09,1L-0.09,-0.25L-0.36,-0.25Z", "filled": true, "size": 2025, "color": "#ffa500", "opacity": 1},
  "encoding": {
   "x": {"field": "x", "type": "quantitative", "scale": {"domain": [6.5, 11], "nice": false, "zero": false}, "axis": null},
   "y": {"field": "y", "type": "quantitative", "scale": {"domain": [14, 17.2], "nice": false, "zero": false},
    "axis": {"orient": "right", "values": [14.794,15.229,15.537,15.777,15.972,16.137,16.281,16.407], "labels": false, "ticks": true, "tickSize": -8, "title": null}}
  }
 },
 {
  "data": {"values": [{"x": 9.7075, "x2": 10.931, "y": 14.01}]},
  "mark": {"type": "rule", "color": "#fffaa8", "strokeWidth": 7, "clip": false},
  "encoding": {
   "x": {"field": "x", "type": "quantitative", "axis": null},
   "x2": {"field": "x2"},
   "y": {"field": "y", "type": "quantitative", "axis": null}
  }
 },
 {
  "data": {"values": [{"x": 7.887, "y": 14.01}]},
  "mark": {"type": "point", "shape": "M-1,0L1,-1L1,1Z", "filled": true, "size": 289, "color": "#fff6a0", "opacity": 1, "clip": false},
  "encoding": {
   "x": {"field": "x", "type": "quantitative", "axis": null},
   "y": {"field": "y", "type": "quantitative", "axis": null}
  }
 },
 {
  "data": {"values": [{"x": 9.7075, "x2": 6.904, "y": 14.01}]},
  "mark": {"type": "rule", "color": "#ffa500", "strokeWidth": 8, "clip": false},
  "encoding": {
   "x": {"field": "x", "type": "quantitative", "axis": null},
   "x2": {"field": "x2"},
   "y": {"field": "y", "type": "quantitative", "axis": null}
  }
 },
 {
  "data": {"values": [{"x": 6.8425, "y": 14.01}]},
  "mark": {"type": "point", "shape": "M-1,0L1,-1L1,1Z", "filled": true, "size": 729, "color": "#ffa500", "opacity": 1, "clip": false},
  "encoding": {
   "x": {"field": "x", "type": "quantitative", "axis": null},
   "y": {"field": "y", "type": "quantitative", "axis": null}
  }
 },
 {
  "data": {"values": [{"x": 9.63, "y": 13.99, "y2": 17.81}]},
  "mark": {"type": "rule", "color": "#ffa500", "strokeWidth": 8, "clip": false},
  "encoding": {
   "x": {"field": "x", "type": "quantitative", "axis": null},
   "y": {"field": "y", "type": "quantitative", "axis": null},
   "y2": {"field": "y2"}
  }
 },
 {
  "data": {"values": [{"x": 9.63, "y": 17.86}]},
  "mark": {"type": "point", "shape": "M0,-1L1,1L-1,1Z", "filled": true, "size": 576, "color": "#ffa500", "opacity": 1, "clip": false},
  "encoding": {
   "x": {"field": "x", "type": "quantitative", "axis": null},
   "y": {"field": "y", "type": "quantitative", "axis": null}
  }
 },
 {
  "data": {"values": [{"x": 10.947, "y": 13.40, "y2": 17.64}]},
  "mark": {"type": "rule", "color": "#ffff00", "strokeWidth": 7, "clip": false},
  "encoding": {
   "x": {"field": "x", "type": "quantitative", "axis": null},
   "y": {"field": "y", "type": "quantitative", "axis": null},
   "y2": {"field": "y2"}
  }
 },
 {
  "data": {"values": [{"x": 10.947, "y": 17.695}]},
  "mark": {"type": "point", "shape": "M0,-1L1,1L-1,1Z", "filled": true, "size": 484, "color": "#ffff00", "opacity": 1, "clip": false},
  "encoding": {
   "x": {"field": "x", "type": "quantitative", "axis": null},
   "y": {"field": "y", "type": "quantitative", "axis": null}
  }
 },
 {
  "data": {"values": [{"x": 8.482, "y": 18.65, "t": "Warmer"}, {"x": 8.482, "y": 18.33, "t": "DOGs ?"}]},
  "mark": {"type": "text", "font": "Liberation Serif", "fontSize": 52, "align": "left", "baseline": "alphabetic", "color": "#ff9d00", "clip": false},
  "encoding": {
   "x": {"field": "x", "type": "quantitative", "axis": null},
   "y": {"field": "y", "type": "quantitative", "axis": null},
   "text": {"field": "t"}
  }
 },
 {
  "data": {"values": [{"x": 8.482, "y": 18.09, "t": "T"}, {"x": 8.647, "y": 18.09, "t": ">35-60K"}, {"x": 8.482, "y": 17.865, "t": "L"}, {"x": 8.6925, "y": 17.865, "t": "~10"}, {"x": 9.067, "y": 17.865, "t": "L"}]},
  "mark": {"type": "text", "font": "Liberation Serif", "fontSize": 37, "align": "left", "baseline": "alphabetic", "color": "#ff9d00", "clip": false},
  "encoding": {
   "x": {"field": "x", "type": "quantitative", "axis": null},
   "y": {"field": "y", "type": "quantitative", "axis": null},
   "text": {"field": "t"}
  }
 },
 {
  "data": {"values": [{"x": 8.578, "y": 18.05, "t": "d"}, {"x": 8.583, "y": 17.815, "t": "IR"}, {"x": 9.173, "y": 17.82, "t": "sun"}]},
  "mark": {"type": "text", "font": "Liberation Serif", "fontSize": 25, "align": "left", "baseline": "alphabetic", "color": "#ff9d00", "clip": false},
  "encoding": {
   "x": {"field": "x", "type": "quantitative", "axis": null},
   "y": {"field": "y", "type": "quantitative", "axis": null},
   "text": {"field": "t"}
  }
 },
 {
  "data": {"values": [{"x": 8.968, "y": 17.905, "t": "13"}]},
  "mark": {"type": "text", "font": "Liberation Serif", "fontSize": 21, "align": "left", "baseline": "alphabetic", "color": "#ff9d00", "clip": false},
  "encoding": {
   "x": {"field": "x", "type": "quantitative", "axis": null},
   "y": {"field": "y", "type": "quantitative", "axis": null},
   "text": {"field": "t"}
  }
 },
 {
  "data": {"values": [{"x": 9.945, "y": 17.63, "t": "DOGs"}]},
  "mark": {"type": "text", "font": "Liberation Serif", "fontSize": 64, "align": "left", "baseline": "alphabetic", "color": "#eeee40", "clip": false},
  "encoding": {
   "x": {"field": "x", "type": "quantitative", "axis": null},
   "y": {"field": "y", "type": "quantitative", "axis": null},
   "text": {"field": "t"}
  }
 }
]
}
